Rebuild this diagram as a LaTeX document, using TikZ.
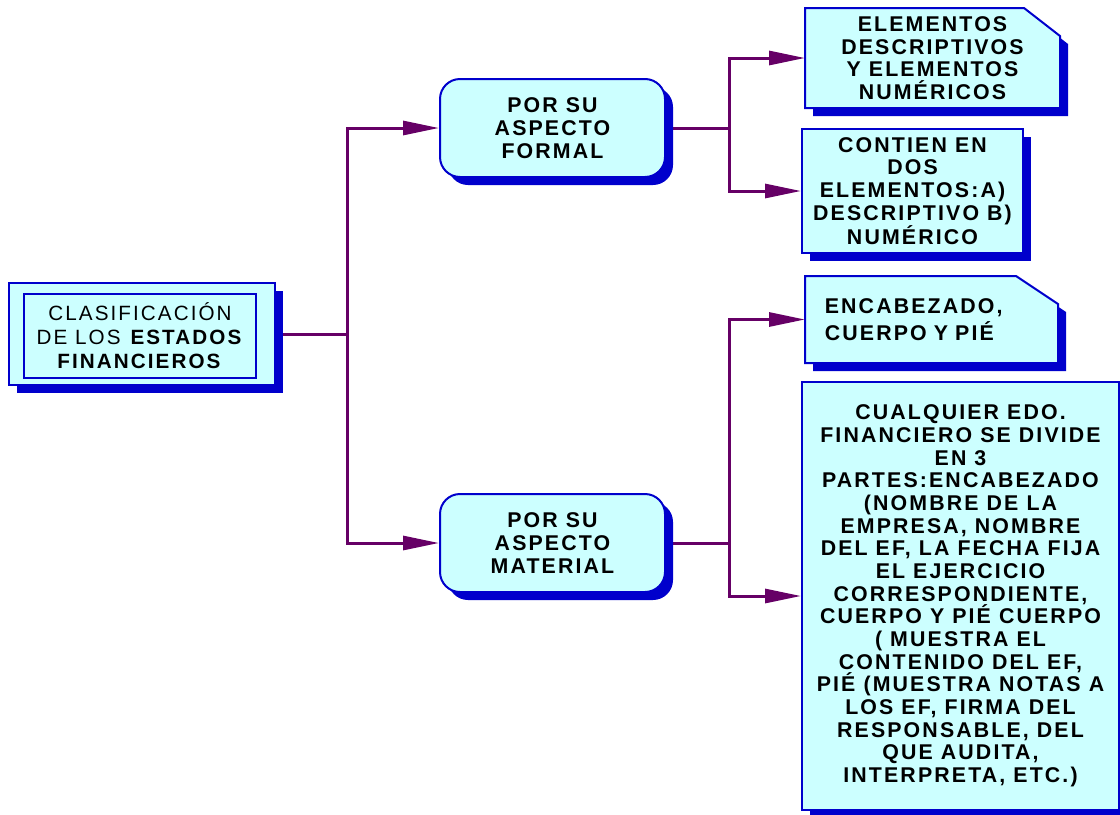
\documentclass[tikz,border=0pt]{standalone}
\usepackage{fontspec}
\setmainfont{Liberation Sans}[LetterSpace=10]
\usetikzlibrary{arrows.meta,shadows,backgrounds}
\definecolor{boxfill}{HTML}{CCFFFF}
\definecolor{boxline}{HTML}{0000CC}
\definecolor{linkcol}{HTML}{660066}
\begin{document}
\begin{tikzpicture}[x=0.75pt,y=-0.75pt,
  shadowed/.style={drop shadow={shadow xshift=6pt,shadow yshift=-6pt,opacity=1,fill=boxline}},
  base/.style={draw=boxline,fill=boxfill,line width=1.5pt,inner sep=0pt,align=center,
    font=\fontsize{16}{17}\selectfont\bfseries},
  plainbox/.style={base,rectangle,shadowed},
  roundbox/.style={base,rectangle,rounded corners=15pt,shadowed,minimum width=168.75pt,minimum height=73.5pt},
  textonly/.style={base,draw=none,fill=none},
  cutshape/.style={draw=boxline,fill=boxfill,line width=1.5pt,shadowed},
  link/.style={draw=linkcol,line width=2.25pt},
  arr/.style={link,-{Triangle[length=27pt,width=10.5pt]}}
]
\useasboundingbox (0,0) rectangle (1120,814);

% left box
\node[plainbox,line width=1pt,minimum width=199.5pt,minimum height=76.5pt] (L) at (142,334) {};
\node[base,minimum width=174pt,minimum height=63pt,font=\fontsize{15.5}{18}\selectfont] (Li) at (140,336)
  {CLASIFICACIÓN\\DE LOS \textbf{ESTADOS}\\\textbf{FINANCIEROS}};

% middle boxes
\node[roundbox] (F) at (552.5,128) {POR SU\\ASPECTO\\FORMAL};
\node[roundbox] (M) at (552.5,543) {POR SU\\ASPECTO\\MATERIAL};

% right boxes
\node[textonly,minimum width=189.75pt,minimum height=73.5pt] (E1) at (932.5,58)
  {ELEMENTOS\\DESCRIPTIVOS\\Y ELEMENTOS\\NUMÉRICOS};
\node[plainbox,minimum width=165.75pt,minimum height=93pt] (E2) at (912.5,191)
  {CONTIEN EN\\DOS\\ELEMENTOS:A)\\DESCRIPTIVO B)\\NUMÉRICO};
\node[textonly,minimum width=188.25pt,minimum height=63.75pt,
  align=left,text width=160pt,font=\fontsize{16}{20}\selectfont\bfseries] (E3) at (931.5,319.5)
  {ENCABEZADO,\\CUERPO Y PIÉ};
\node[plainbox,minimum width=237.75pt,minimum height=321pt] (E4) at (960.5,596)
  {CUALQUIER EDO.\\FINANCIERO SE DIVIDE\\EN 3\\PARTES:ENCABEZADO\\(NOMBRE DE LA\\EMPRESA, NOMBRE\\DEL EF, LA FECHA FIJA\\EL EJERCICIO\\CORRESPONDIENTE,\\CUERPO Y PIÉ CUERPO\\( MUESTRA EL\\CONTENIDO DEL EF,\\PIÉ (MUESTRA NOTAS A\\LOS EF, FIRMA DEL\\RESPONSABLE, DEL\\QUE AUDITA,\\INTERPRETA, ETC.)};

\begin{scope}[on background layer]
\path[cutshape] (E1.south west) -- (E1.north west) -- ([xshift=-27pt]E1.north east)
  -- ([yshift=-21pt]E1.north east) -- (E1.south east) -- cycle;
\path[cutshape] (E3.south west) -- (E3.north west) -- ([xshift=-31.5pt]E3.north east)
  -- ([yshift=-21pt]E3.north east) -- (E3.south east) -- cycle;
\end{scope}

% connectors
\coordinate (j1) at (347,334);
\coordinate (j2) at ([xshift=47.25pt]F.east);
\coordinate (j3) at ([xshift=47.25pt]M.east);
\begin{scope}[on background layer]
\draw[link] (L.east) -- (j1);
\draw[link] (F.east) -- (j2);
\draw[link] (M.east) -- (j3);
\end{scope}
\draw[arr] (j1) |- (F.west);
\draw[arr] (j1) |- (M.west);
\draw[arr] (j2) |- (E1.west);
\draw[arr] (j2) |- (E2.west);
\draw[arr] (j3) |- (E3.west);
\draw[arr] (j3) |- (E4.west);
\end{tikzpicture}
\end{document}
